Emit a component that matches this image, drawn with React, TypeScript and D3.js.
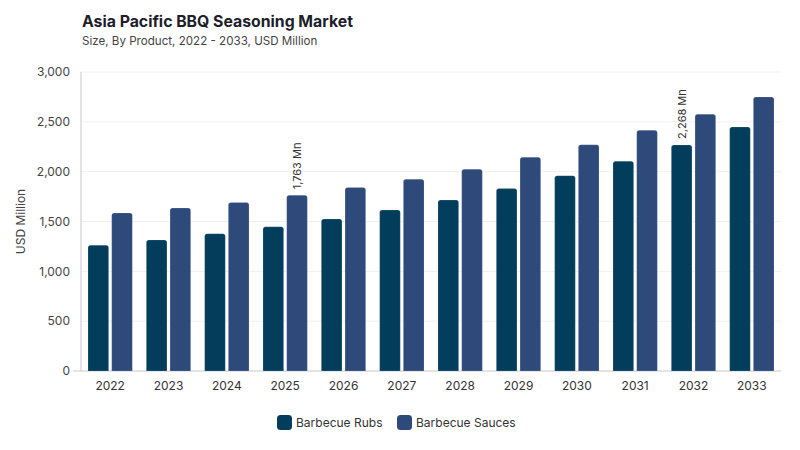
import React from "react";
import * as d3 from "d3";

const years = ["2022","2023","2024","2025","2026","2027","2028","2029","2030","2031","2032","2033"];
const seriesNames = ["Barbecue Rubs", "Barbecue Sauces"];
const rubs = [1262, 1315, 1378, 1447, 1525, 1615, 1715, 1830, 1960, 2105, 2268, 2448];
const sauces = [1585, 1635, 1690, 1763, 1840, 1925, 2025, 2145, 2270, 2415, 2577, 2749];
const colors = ["#023e5c", "#2e4a7b"];
const yTicks = [0, 500, 1000, 1500, 2000, 2500, 3000];
const annotations = [
  { year: "2025", series: 1, text: "1,763 Mn" },
  { year: "2032", series: 0, text: "2,268 Mn" },
];

const W = 800, H = 450;
const left = 81, right = 781, top = 72, bottom = 371;
const FONT = "Inter, 'Noto Sans', sans-serif";

export default function App() {
  const x0 = d3.scaleBand<string>().domain(years).range([left, right]).padding(0);
  const x1 = d3.scaleBand<string>().domain(seriesNames).range([7, x0.bandwidth() - 7]).paddingInner(0.13);
  const y = d3.scaleLinear().domain([0, 3000]).range([bottom, top]);
  const data = [rubs, sauces];
  const fmt = d3.format(",");
  const r = 2.5;

  const barPath = (x: number, yTop: number, w: number, h: number) => {
    const rr = Math.min(r, h);
    return `M${x},${yTop + h}V${yTop + rr}Q${x},${yTop} ${x + rr},${yTop}H${x + w - rr}Q${x + w},${yTop} ${x + w},${yTop + rr}V${yTop + h}Z`;
  };

  return (
    <svg width={W} height={H} style={{ display: "block", position: "absolute", left: 0, top: 0, background: "#fff" }} fontFamily={FONT}>
      <text x={82} y={27} fontSize={15.8} fontWeight={700} fill="#1d1d2b">Asia Pacific BBQ Seasoning Market</text>
      <text x={82} y={45} fontSize={11.6} fill="#444">Size, By Product, 2022 - 2033, USD Million</text>

      {yTicks.map((t) => (
        <g key={t}>
          {t > 0 && <line x1={left} x2={right} y1={y(t)} y2={y(t)} stroke="#f0f0f0" strokeWidth={1} />}
          <text x={70} y={y(t)} dy="0.35em" textAnchor="end" fontSize={12} fill="#444">{fmt(t)}</text>
        </g>
      ))}
      <line x1={left} x2={left} y1={top} y2={bottom} stroke="#c8c8c8" strokeWidth={1} />
      <line x1={73} x2={right} y1={bottom} y2={bottom} stroke="#c8c8c8" strokeWidth={1} />

      <text transform={`translate(25,${(top + bottom) / 2}) rotate(-90)`} textAnchor="middle" fontSize={12} fill="#444">USD Million</text>

      {years.map((yr, i) => (
        <g key={yr}>
          {seriesNames.map((s, si) => {
            const v = data[si][i];
            const bx = (x0(yr) as number) + (x1(s) as number);
            const by = y(v);
            return (
              <path key={s} d={barPath(bx, by, x1.bandwidth(), bottom - by)} fill={colors[si]} stroke="#ffffff" strokeOpacity={0.3} strokeWidth={0.5} />
            );
          })}
          <text x={(x0(yr) as number) + x0.bandwidth() / 2} y={390} textAnchor="middle" fontSize={12} fill="#333">{yr}</text>
        </g>
      ))}

      {annotations.map((a) => {
        const i = years.indexOf(a.year);
        const cx = (x0(a.year) as number) + (x1(seriesNames[a.series]) as number) + x1.bandwidth() / 2;
        const ty = y(data[a.series][i]) - 6;
        return (
          <text key={a.year} transform={`translate(${cx},${ty}) rotate(-90)`} dy="0.35em" fontSize={11} fill="#333">{a.text}</text>
        );
      })}

      {seriesNames.map((s, si) => {
        const lx = si === 0 ? 277 : 397;
        return (
          <g key={s}>
            <rect x={lx} y={415} width={15} height={15} rx={3.5} fill={colors[si]} />
            <text x={lx + 19} y={422.5} dy="0.35em" fontSize={12} fill="#333">{s}</text>
          </g>
        );
      })}
    </svg>
  );
}
